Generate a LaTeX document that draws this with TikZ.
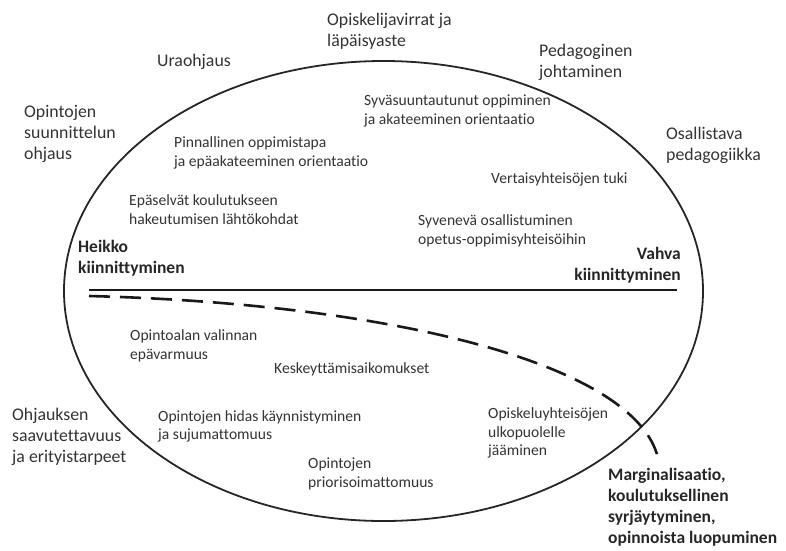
\documentclass[tikz,border=0pt]{standalone}
\usepackage{fontspec}
\setmainfont{Carlito}[Ligatures=NoCommon]
\begin{document}
\begin{tikzpicture}[x=1pt,y=-1pt,
  outer/.style={anchor=west,inner sep=0pt,align=left,text=black!80,
    font=\fontsize{17.8}{21}\selectfont},
  inner/.style={anchor=west,inner sep=0pt,align=left,text=black!80,
    font=\fontsize{15.6}{18.8}\selectfont},
  strong/.style={anchor=west,inner sep=0pt,align=left,text=black!85,
    font=\fontsize{17.5}{21}\selectfont\bfseries},
  axis/.style={line width=2.6pt,black!90},
  path/.style={line width=2.6pt,black!90,dash pattern=on 21pt off 10pt}]
\useasboundingbox (0,0) rectangle (786,550);

% the field of study engagement
\draw[line width=1.8pt,black!85] (383.5,291) ellipse [x radius=319.5, y radius=230];

% weak--strong engagement axis
\coordinate (weak) at (89,290);
\coordinate (strong) at (677,290);
\draw[axis] (weak) -- (strong);

% path towards marginalisation
\coordinate (pstart) at (89,296);
\coordinate (pend) at (658,458);
\draw[path] (pstart) .. controls (400,304) and (636,366) .. (pend);

% guidance themes around the field
\node[outer] (flow) at (327,31) {Opiskelijavirrat ja\\läpäisyaste};
\node[outer] (career) at (157,62) {Uraohjaus};
\node[outer] (plan) at (24,134) {Opintojen\\suunnittelun\\ohjaus};
\node[outer] (lead) at (539,62.5) {Pedagoginen\\johtaminen};
\node[outer] (incl) at (666,145) {Osallistava\\pedagogiikka};
\node[outer] (access) at (12,437) {Ohjauksen\\saavutettavuus\\ja erityistarpeet};

% upper half
\node[inner] (surf) at (174,153) {Pinnallinen oppimistapa\\ja epäakateeminen orientaatio};
\node[inner] (unclear) at (129,210) {Epäselvät koulutukseen\\hakeutumisen lähtökohdat};
\node[inner] (deep) at (364,111) {Syväsuuntautunut oppiminen\\ja akateeminen orientaatio};
\node[inner] (peer) at (491,179) {Vertaisyhteisöjen tuki};
\node[inner] (part) at (418,230.5) {Syvenevä osallistuminen\\opetus-oppimisyhteisöihin};

% axis ends
\node[strong] (weaklbl) at (78,258) {Heikko\\kiinnittyminen};
\node[strong,anchor=east,align=right] (stronglbl) at (681,265) {Vahva\\kiinnittyminen};

% lower half
\node[inner] (field) at (130,346) {Opintoalan valinnan\\epävarmuus};
\node[inner] (drop) at (274,369) {Keskeyttämisaikomukset};
\node[inner] (slow) at (158,426.5) {Opintojen hidas käynnistyminen\\ja sujumattomuus};
\node[inner] (prio) at (308,473.5) {Opintojen\\priorisoimattomuus};
\node[inner] (outside) at (488,433) {Opiskeluyhteisöjen\\ulkopuolelle\\jääminen};

% outcome at the end of the path
\node[strong] (marg) at (608,507) {Marginalisaatio,\\koulutuksellinen\\syrjäytyminen,\\opinnoista luopuminen};
\end{tikzpicture}
\end{document}
